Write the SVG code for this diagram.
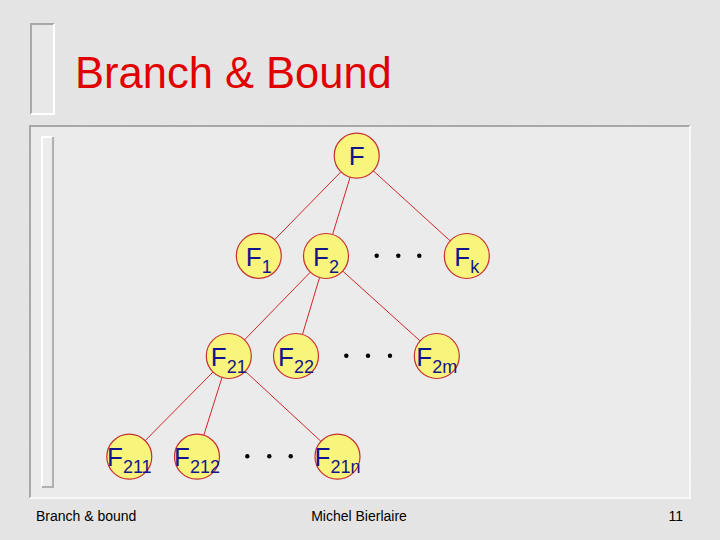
<svg xmlns="http://www.w3.org/2000/svg" width="720" height="540" viewBox="0 0 720 540">
<defs>
<filter id="tex" x="0" y="0" width="100%" height="100%">
<feTurbulence type="fractalNoise" baseFrequency="0.9" numOctaves="2" seed="3" result="n"/>
<feColorMatrix type="matrix" values="0 0 0 0 0.82  0 0 0 0 0.82  0 0 0 0 0.82  0 0 0 1.2 -0.55" in="n" result="c"/>
<feComposite in="c" in2="SourceGraphic" operator="in"/>
</filter>
<style>
.node circle{fill:#f8f47c;stroke:#c83030;stroke-width:1.2}
.node text{font-family:"Liberation Sans",Arial,sans-serif;font-size:26px;fill:#14148c;text-anchor:middle}
.node tspan.s{font-size:18px}
.edges line{stroke:#d02828;stroke-width:1}
.dot{fill:#000}
.foot{font-family:"Liberation Sans",Arial,sans-serif;font-size:14px;fill:#000}
</style>
</defs>
<rect x="0" y="0" width="720" height="540" fill="#e4e4e4"/>
<rect x="0" y="0" width="720" height="540" fill="#fff" filter="url(#tex)" opacity="0.6"/>
<!-- title bracket -->
<rect x="31" y="24" width="23" height="90" fill="#e8e8e8"/>
<path d="M31 114 V24 H54" fill="none" stroke="#a8a8a8" stroke-width="2"/>
<path d="M54 24 V114 H31" fill="none" stroke="#ffffff" stroke-width="2"/>
<text x="75" y="88" font-family="Liberation Sans,Arial,sans-serif" font-size="43.5" fill="#e00000">Branch &amp; Bound</text>
<!-- content frame -->
<rect x="30" y="126" width="660" height="372" fill="#ebebeb"/>
<path d="M30 498 V126 H690" fill="none" stroke="#a8a8a8" stroke-width="2"/>
<path d="M690 126 V498 H30" fill="none" stroke="#f8f8f8" stroke-width="2"/>
<rect x="42" y="137" width="11" height="350" fill="#ececec"/>
<path d="M42 487 V137 H53" fill="none" stroke="#ffffff" stroke-width="2"/>
<path d="M53 137 V487 H42" fill="none" stroke="#b0b0b0" stroke-width="2"/>
<g class="edges">
<line x1="356.7" y1="155.7" x2="258.8" y2="255.8"/>
<line x1="356.7" y1="155.7" x2="326" y2="256"/>
<line x1="356.7" y1="155.7" x2="466.8" y2="256"/>
<line x1="326" y1="256" x2="228.8" y2="356"/>
<line x1="326" y1="256" x2="296" y2="356"/>
<line x1="326" y1="256" x2="436.8" y2="356"/>
<line x1="228.8" y1="356" x2="129.3" y2="456.7"/>
<line x1="228.8" y1="356" x2="197" y2="456.7"/>
<line x1="228.8" y1="356" x2="337.5" y2="456.7"/>
</g>
<g id="nF" class="node"><circle cx="356.7" cy="155.7" r="22.5"/><text x="356.7" y="165">F</text></g>
<g id="nF1" class="node"><circle cx="258.8" cy="255.8" r="22.5"/><text x="258.8" y="265.5">F<tspan class="s" dy="7">1</tspan></text></g>
<g id="nF2" class="node"><circle cx="326" cy="256" r="22.5"/><text x="326" y="265.5">F<tspan class="s" dy="7">2</tspan></text></g>
<g id="nFk" class="node"><circle cx="466.8" cy="256" r="22.5"/><text x="466.8" y="265.5">F<tspan class="s" dy="7">k</tspan></text></g>
<g id="nF21" class="node"><circle cx="228.8" cy="356" r="22.5"/><text x="228.8" y="365.5">F<tspan class="s" dy="7">21</tspan></text></g>
<g id="nF22" class="node"><circle cx="296" cy="356" r="22.5"/><text x="296" y="365.5">F<tspan class="s" dy="7">22</tspan></text></g>
<g id="nF2m" class="node"><circle cx="436.8" cy="356" r="22.5"/><text x="436.8" y="365.5">F<tspan class="s" dy="7">2m</tspan></text></g>
<g id="nF211" class="node"><circle cx="129.3" cy="456.7" r="22.5"/><text x="129.3" y="466">F<tspan class="s" dy="7">211</tspan></text></g>
<g id="nF212" class="node"><circle cx="197" cy="456.7" r="22.5"/><text x="197" y="466">F<tspan class="s" dy="7">212</tspan></text></g>
<g id="nF21n" class="node"><circle cx="337.5" cy="456.7" r="22.5"/><text x="337.5" y="466">F<tspan class="s" dy="7">21n</tspan></text></g>
<g id="dots">
<circle class="dot" cx="376.7" cy="255.7" r="2.2"/><circle class="dot" cx="398.3" cy="255.7" r="2.2"/><circle class="dot" cx="419.3" cy="255.7" r="2.2"/>
<circle class="dot" cx="346.3" cy="355.7" r="2.2"/><circle class="dot" cx="368" cy="355.7" r="2.2"/><circle class="dot" cx="390" cy="355.7" r="2.2"/>
<circle class="dot" cx="247.3" cy="456.3" r="2.2"/><circle class="dot" cx="269.3" cy="456.3" r="2.2"/><circle class="dot" cx="290.7" cy="456.3" r="2.2"/>
</g>
<text class="foot" x="36" y="521">Branch &amp; bound</text>
<text class="foot" x="359" y="521" text-anchor="middle">Michel Bierlaire</text>
<text class="foot" x="683" y="521" text-anchor="end">11</text>
</svg>
